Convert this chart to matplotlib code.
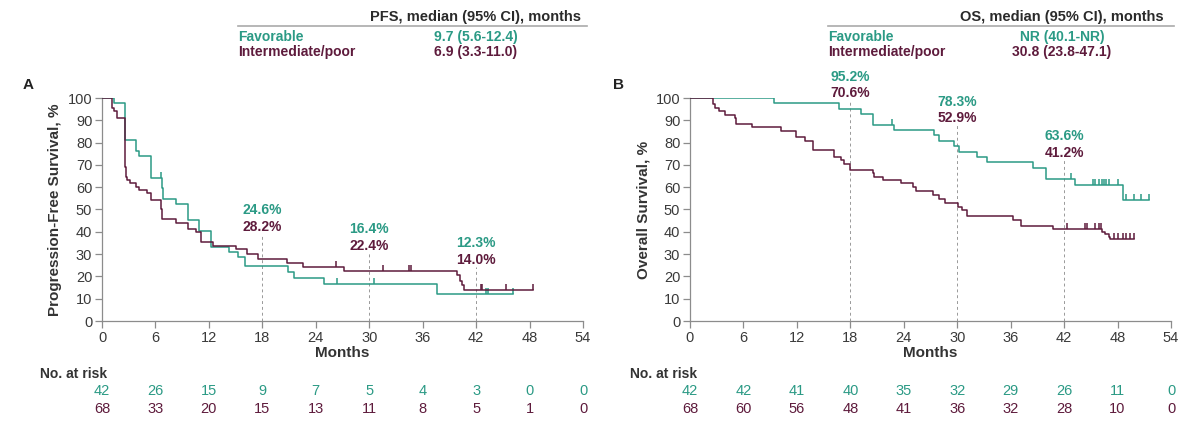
import numpy as np
import matplotlib
matplotlib.use('Agg')
import matplotlib.pyplot as plt

plt.rcParams['font.family'] = ['Liberation Sans', 'DejaVu Sans']

TEAL = '#2b9a85'
MAROON = '#5e1b3c'
GREY = '#8c8c8c'
TXT = '#333333'

# --- PFS (panel A) step curves, months / % ---
pfs_fav_t = [0, 1.35, 2.6, 3.8, 4.2, 5.5, 6.7, 6.9, 8.3, 9.7, 10.9, 12.2, 14.3, 15.3, 16.1,
             20.9, 21.6, 24.9, 37.6]
pfs_fav_s = [100, 97.6, 81.0, 76.2, 73.8, 64.3, 59.5, 54.8, 52.4, 45.2, 40.5, 33.3, 31.0, 28.6,
             24.6, 21.9, 19.1, 16.4, 12.3]
pfs_fav_end = 46.1
pfs_fav_cens = [6.6, 26.4, 30.5, 43.1, 43.3, 46.1]

pfs_int_t = [0, 1.1, 1.3, 1.7, 2.6, 2.7, 2.8, 3.1, 3.8, 4.2, 5.0, 5.5, 6.6, 6.7, 8.3, 9.6, 10.6,
             11.1, 12.5, 15.0, 16.3, 17.5, 20.8, 22.6, 27.2, 39.9, 40.2, 40.4, 40.6]
pfs_int_s = [100, 95.6, 94.1, 91.2, 69.1, 64.7, 63.2, 61.8, 60.3, 58.8, 57.4, 54.4, 50.0, 45.6,
             44.1, 41.2, 39.7, 35.3, 33.8, 32.4, 30.1, 27.9, 26.1, 24.4, 22.4, 20.5, 18.0, 16.0, 14.0]
pfs_int_end = 48.4
pfs_int_cens = [26.3, 31.5, 34.5, 34.7, 42.6, 42.7, 45.3, 48.4]

# --- OS (panel B) ---
os_fav_t = [0, 9.4, 16.7, 19.2, 20.6, 22.9, 27.4, 28.0, 29.6, 30.2, 32.2, 33.3, 38.5, 40.0,
            43.2, 48.6]
os_fav_s = [100, 97.6, 95.2, 92.9, 88.1, 85.7, 83.3, 80.9, 78.3, 76.0, 73.6, 71.2, 68.8, 63.6,
            61.2, 54.1]
os_fav_end = 51.5
os_fav_cens = [22.7, 42.8, 45.2, 45.5, 45.9, 46.2, 46.5, 46.7, 47.0, 48.1, 48.9, 49.8, 50.6, 51.5]

os_int_t = [0, 2.6, 2.8, 3.2, 3.9, 5.0, 5.2, 7.0, 10.2, 11.9, 12.9, 13.8, 16.2, 16.9, 17.3, 18.0,
            20.5, 20.7, 21.7, 23.7, 25.0, 25.4, 27.3, 27.9, 28.6, 30.1, 30.5, 31.1, 36.3, 37.2,
            40.7, 46.3, 46.6, 47.0, 47.2]
os_int_s = [100, 97.1, 95.6, 94.1, 92.6, 91.2, 88.2, 86.8, 85.3, 82.4, 80.9, 76.5, 73.5, 72.1,
            70.6, 67.6, 66.2, 64.7, 63.2, 61.8, 60.0, 58.5, 56.3, 54.6, 52.9, 51.3, 49.7, 47.0,
            45.2, 42.7, 41.2, 40.0, 38.8, 37.6, 36.9]
os_int_end = 49.9
os_int_cens = [42.3, 44.3, 44.6, 45.5, 45.9, 46.1, 47.6, 48.0, 48.6, 49.0, 49.4, 49.9]

# landmark annotations (month, favorable %, intermediate %)
pfs_marks = [(18, '24.6%', '28.2%'), (30, '16.4%', '22.4%'), (42, '12.3%', '14.0%')]
os_marks = [(18, '95.2%', '70.6%'), (30, '78.3%', '52.9%'), (42, '63.6%', '41.2%')]

risk_months = [0, 6, 12, 18, 24, 30, 36, 42, 48, 54]
pfs_risk_fav = [42, 26, 15, 9, 7, 5, 4, 3, 0, 0]
pfs_risk_int = [68, 33, 20, 15, 13, 11, 8, 5, 1, 0]
os_risk_fav = [42, 42, 41, 40, 35, 32, 29, 26, 11, 0]
os_risk_int = [68, 60, 56, 48, 41, 36, 32, 28, 10, 0]

W, H = 1200, 423
fig = plt.figure(figsize=(W / 100, H / 100), dpi=100)


def px(x, y):
    return x / W, 1 - y / H


def km(ax, t, s, end, cens, color):
    tt = list(t) + [end]
    ss = list(s) + [s[-1]]
    ax.step(tt, ss, where='post', color=color, lw=1.1, zorder=3)
    idx = np.searchsorted(t, cens, side='right') - 1
    cy = np.array(s)[idx]
    ax.plot(cens, cy, ls='none', marker=[(0, 0), (0, 1)], ms=9, mew=1.1,
            color=color, zorder=3)


def panel(left_px, t_lab, ylabel, curves, marks, mark_pos, risk_f, risk_i, risk_x):
    l, _ = px(left_px, 0)
    ax = fig.add_axes([l, (H - 321) / H, 481 / W, 223 / H])
    for c in curves:
        km(ax, *c)
    ax.set_xlim(0, 54)
    ax.set_ylim(0, 100)
    ax.set_xticks(range(0, 55, 6))
    ax.set_yticks(range(0, 101, 10))
    for sp in ['top', 'right']:
        ax.spines[sp].set_visible(False)
    for sp in ['left', 'bottom']:
        ax.spines[sp].set_color(GREY)
        ax.spines[sp].set_linewidth(0.9)
    ax.tick_params(colors=GREY, labelcolor='#3a3a3a', labelsize=10.5, length=5, width=0.9, pad=2)
    ax.set_xlabel('Months', fontsize=11, fontweight='bold', color=TXT, labelpad=1)
    ax.set_ylabel(ylabel, fontsize=11, fontweight='bold', color=TXT, labelpad=4)
    for (m, a, b), (yt, yb, ytop) in zip(marks, mark_pos):
        ax.vlines(m, 0, ytop, colors='#999999', linestyles=(0, (3, 3)), lw=0.7, zorder=1)
        ax.text(m, yt, a, color=TEAL, ha='center', va='center', fontsize=10,
                fontweight='bold', clip_on=False)
        ax.text(m, yb, b, color=MAROON, ha='center', va='center', fontsize=10,
                fontweight='bold', clip_on=False)
    tr = ax.get_xaxis_transform()
    ax.text(risk_x, -0.238, 'No. at risk', transform=tr, ha='left', va='center',
            fontsize=10, fontweight='bold', color=TXT)
    for m, a, b in zip(risk_months, risk_f, risk_i):
        ax.text(m, -0.316, str(a), transform=tr, ha='center', va='center', fontsize=10.5,
                color=TEAL)
        ax.text(m, -0.395, str(b), transform=tr, ha='center', va='center', fontsize=10.5,
                color=MAROON)
    ax.text(-8.3 if t_lab == 'A' else -8.0, 1.06, t_lab, transform=tr, fontsize=11,
            fontweight='bold', color='#222222', ha='center', va='center')
    return ax


panel(102, 'A', 'Progression-Free Survival, %',
      [(pfs_fav_t, pfs_fav_s, pfs_fav_end, pfs_fav_cens, TEAL),
       (pfs_int_t, pfs_int_s, pfs_int_end, pfs_int_cens, MAROON)],
      pfs_marks, [(49.8, 42.3, 39), (41.3, 33.8, 31), (35.0, 27.4, 24)],
      pfs_risk_fav, pfs_risk_int, -7.0)

panel(690, 'B', 'Overall Survival, %',
      [(os_fav_t, os_fav_s, os_fav_end, os_fav_cens, TEAL),
       (os_int_t, os_int_s, os_int_end, os_int_cens, MAROON)],
      os_marks, [(109.4, 102.2, 99), (98.3, 90.9, 88), (82.9, 75.4, 72)],
      os_risk_fav, os_risk_int, -6.7)

# median tables
tables = [
    (238, 587, 476, 'PFS, median (95% CI), months', '9.7 (5.6-12.4)', '6.9 (3.3-11.0)'),
    (828, 1174, 1062, 'OS, median (95% CI), months', 'NR (40.1-NR)', '30.8 (23.8-47.1)'),
]
for x0, x1, xc, head, vf, vi in tables:
    fig.text(*px(xc, 17), head, ha='center', va='center', fontsize=10.5,
             fontweight='semibold', color='#2a2a2a')
    fig.add_artist(plt.Line2D([x0 / W, x1 / W], [1 - 26 / H] * 2, color='#aaaaaa', lw=1.2))
    fig.text(*px(x0, 37), 'Favorable', ha='left', va='center', fontsize=10,
             fontweight='bold', color=TEAL)
    fig.text(*px(x0, 52), 'Intermediate/poor', ha='left', va='center', fontsize=10,
             fontweight='bold', color=MAROON)
    fig.text(*px(xc, 37), vf, ha='center', va='center', fontsize=10,
             fontweight='bold', color=TEAL)
    fig.text(*px(xc, 52), vi, ha='center', va='center', fontsize=10,
             fontweight='bold', color=MAROON)

fig.savefig('out.png', dpi=100)
